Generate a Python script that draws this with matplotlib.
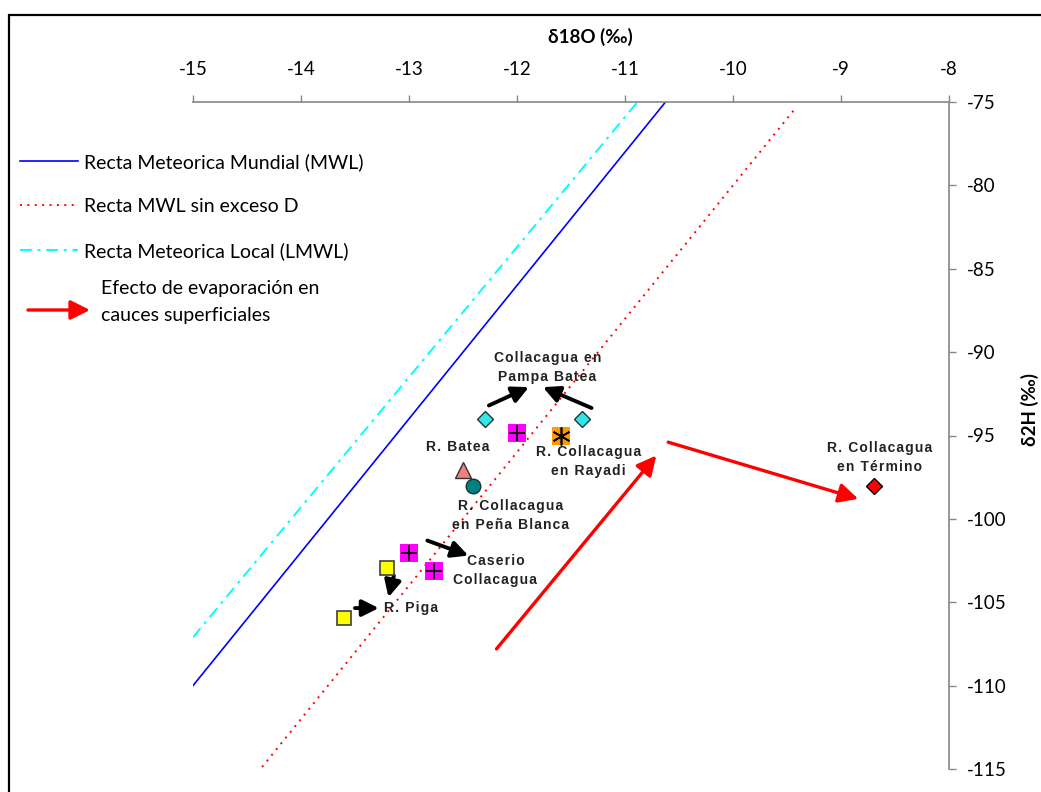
import matplotlib
matplotlib.use("Agg")
import matplotlib.pyplot as plt
from matplotlib.patches import Rectangle, FancyArrowPatch
import numpy as np

plt.rcParams['font.family'] = ['Lato', 'DejaVu Sans']
plt.rcParams['axes.unicode_minus'] = False

# --- meteoric water lines: delta2H = slope * delta18O + intercept ---
mwl_x = [-15.0, -10.625]          # global meteoric water line, d = 10
mwl_slope, mwl_icpt = 8.0, 10.0
sin_x = [-14.36, -9.43]           # MWL without deuterium excess
sin_slope, sin_icpt = 8.0, 0.0
lmwl_x = [-15.0, -10.88]          # local meteoric water line
lmwl_slope, lmwl_icpt = 7.8, 9.9

# --- samples (delta18O, delta2H) ---
pampa_batea_d18O = [-12.3, -11.4]
pampa_batea_d2H = [-94.0, -94.0]
caserio_d18O = [-12.0, -13.0, -12.77]
caserio_d2H = [-94.85, -102.05, -103.1]
rayadi_d18O = [-11.59]
rayadi_d2H = [-95.0]
batea_d18O = [-12.5]
batea_d2H = [-97.05]
pena_blanca_d18O = [-12.41]
pena_blanca_d2H = [-98.0]
piga_d18O = [-13.2, -13.6]
piga_d2H = [-102.95, -105.95]
termino_d18O = [-8.69]
termino_d2H = [-98.05]

# --- labels (text, x, y) ---
labels = [
    ("Collacagua en\nPampa Batea", -11.72, -90.9),
    ("R. Batea", -12.55, -95.7),
    ("R. Collacagua\nen Rayadi", -11.34, -96.55),
    ("R. Collacagua\nen Peña Blanca", -12.06, -99.8),
    ("Caserio\nCollacagua", -12.2, -103.1),
    ("R. Piga", -12.98, -105.35),
    ("R. Collacagua\nen Término", -8.64, -96.3),
]

# --- arrows (start, tip) ---
black_arrows = [
    ((-12.26, -93.2), (-11.89, -92.1)),
    ((-11.31, -93.35), (-11.76, -92.1)),
    ((-12.83, -101.3), (-12.45, -102.2)),
    ((-13.14, -103.4), (-13.19, -104.7)),
    ((-13.50, -105.35), (-13.28, -105.35)),
]
red_arrows = [
    ((-12.19, -107.8), (-10.71, -96.2)),
    ((-10.60, -95.4), (-8.84, -98.8)),
]

W, H = 1041, 792
fig = plt.figure(figsize=(W / 100, H / 100), dpi=100)
ax = fig.add_axes([193 / W, 1 - 769 / H, (949 - 193) / W, (769 - 102) / H])

gray = "#868686"
arrow_style = "-|>,head_length=0.9,head_width=0.45"


def line_y(xs, m, b):
    return [m * v + b for v in xs]


def spaced(s):
    # slightly tracked-out lettering for the station labels
    return "\n".join("\u200a".join(line) for line in s.split("\n"))


h_mwl, = ax.plot(mwl_x, line_y(mwl_x, mwl_slope, mwl_icpt), color="#0000FF",
                 lw=1.2, label="Recta Meteorica Mundial (MWL)")
h_sin, = ax.plot(sin_x, line_y(sin_x, sin_slope, sin_icpt), color="#FF0000",
                 lw=1.4, linestyle=(0, (1, 2.8)), label="Recta MWL sin exceso D")
h_lmwl, = ax.plot(lmwl_x, line_y(lmwl_x, lmwl_slope, lmwl_icpt), color="#00FFFF",
                  lw=1.4, linestyle=(0, (6, 3, 1.5, 3)),
                  label="Recta Meteorica Local (LMWL)")

# sample markers
ax.plot(pampa_batea_d18O, pampa_batea_d2H, 'D', ms=8.5, mfc="#33E6E6",
        mec="#1a3a3a", mew=1.0, ls='none', zorder=5)
ax.plot(caserio_d18O, caserio_d2H, 's', ms=13.5, mfc="#FF00FF",
        mec="#FF00FF", mew=0, ls='none', zorder=5)
ax.plot(caserio_d18O, caserio_d2H, '+', ms=12, mec="black", mew=1.3,
        ls='none', zorder=6)
ax.plot(rayadi_d18O, rayadi_d2H, 's', ms=13.5, mfc="#FF9900",
        mec="#FF9900", mew=0, ls='none', zorder=5)
ax.plot(rayadi_d18O, rayadi_d2H, marker=(6, 2, 0), ms=13, mec="black",
        mew=1.2, ls='none', zorder=6)
ax.plot(batea_d18O, batea_d2H, '^', ms=11, mfc="#F08080", mec="#333333",
        mew=1.0, ls='none', zorder=5)
ax.plot(pena_blanca_d18O, pena_blanca_d2H, 'o', ms=10.5, mfc="#008080",
        mec="#1a3333", mew=1.0, ls='none', zorder=5)
ax.plot(piga_d18O, piga_d2H, 's', ms=10, mfc="#FFFF00", mec="#404040",
        mew=1.2, ls='none', zorder=5)
ax.plot(termino_d18O, termino_d2H, 'D', ms=8.5, mfc="#FF0000", mec="black",
        mew=1.0, ls='none', zorder=5)

for (x0, y0), (x1, y1) in black_arrows:
    ax.annotate("", xy=(x1, y1), xytext=(x0, y0),
                arrowprops=dict(arrowstyle=arrow_style, color="black", lw=2.8,
                                shrinkA=0, shrinkB=0, mutation_scale=11))
for (x0, y0), (x1, y1) in red_arrows:
    ax.annotate("", xy=(x1, y1), xytext=(x0, y0),
                arrowprops=dict(arrowstyle=arrow_style, color="#FF0000", lw=2.4,
                                shrinkA=0, shrinkB=0, mutation_scale=13))

for txt, x, y in labels:
    ax.text(x, y, spaced(txt), ha="center", va="center", fontsize=10,
            fontweight="bold", family=["Liberation Sans", "DejaVu Sans"],
            color="#222222", linespacing=1.45, zorder=7)

ax.set_xlim(-15, -8)
ax.set_ylim(-115, -75)
ax.set_xticks(np.arange(-15, -7, 1))
ax.set_yticks(np.arange(-115, -74, 5))
ax.xaxis.tick_top()
ax.yaxis.tick_right()
ax.tick_params(axis="x", direction="out", length=5, width=1, color=gray,
               labelsize=13.5, pad=12)
ax.tick_params(axis="y", direction="out", length=5, width=1, color=gray,
               labelsize=13.5, pad=8)
for side in ("left", "bottom"):
    ax.spines[side].set_visible(False)
for side in ("top", "right"):
    ax.spines[side].set_color(gray)
    ax.spines[side].set_linewidth(1.2)
ax.patch.set_alpha(0)

fig.text(590 / W, 1 - 37 / H, "δ18O (‰)", ha="center", va="center",
         fontsize=13.5, fontweight="bold")
fig.text(1030 / W, 1 - 410 / H, "δ2H (‰)", ha="center", va="center",
         fontsize=13.5, fontweight="bold", rotation=90)

fig.legend(handles=[h_mwl, h_sin, h_lmwl], loc="upper left",
           bbox_to_anchor=(20 / W, 1 - 153 / H), frameon=False, fontsize=14,
           handlelength=3.0, handletextpad=0.3, labelspacing=1.4,
           borderpad=0, borderaxespad=0)

# evaporation arrow key
fig.add_artist(FancyArrowPatch((28 / W, 1 - 310 / H), (90 / W, 1 - 310 / H),
                               transform=fig.transFigure,
                               arrowstyle=arrow_style, color="#FF0000", lw=2.4,
                               mutation_scale=13, shrinkA=0, shrinkB=0))
fig.text(101 / W, 1 - 302 / H, "Efecto de evaporación en\ncauces superficiales",
         ha="left", va="center", fontsize=14, linespacing=1.65)

# outer chart frame
fig.add_artist(Rectangle((9 / W, -0.2), 1.5, 1 - 15 / H + 0.2,
                         transform=fig.transFigure, fill=False,
                         edgecolor="black", lw=1.6, clip_on=False))

fig.savefig("out.png", dpi=100)
